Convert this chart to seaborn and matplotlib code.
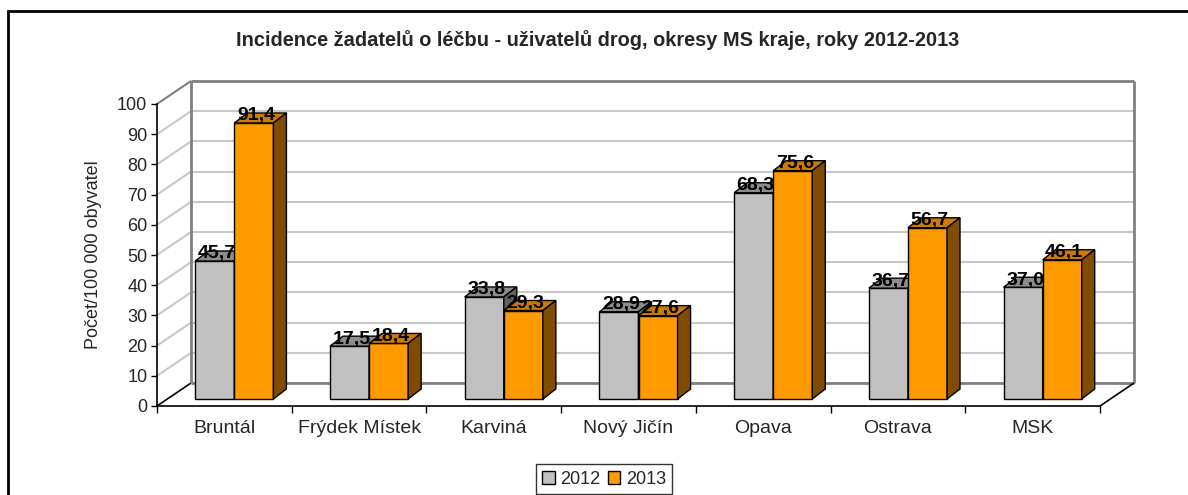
import numpy as np
import pandas as pd
import matplotlib
matplotlib.use('Agg')
import matplotlib.pyplot as plt
import seaborn as sns
from matplotlib.patches import Polygon, Rectangle
from matplotlib.transforms import ScaledTranslation, IdentityTransform

# data
okresy = ['Bruntál', 'Frýdek Místek', 'Karviná', 'Nový Jičín', 'Opava', 'Ostrava', 'MSK']
hodnoty_2012 = [45.7, 17.5, 33.8, 28.9, 68.3, 36.7, 37.0]
hodnoty_2013 = [91.4, 18.4, 29.3, 27.6, 75.6, 56.7, 46.1]
roky = ['2012', '2013']
y_ticks = list(range(0, 101, 10))

barvy = {'2012': '#C0C0C0', '2013': '#FF9900'}
barvy_vrch = {'2012': '#8C8C8C', '2013': '#CC7A00'}
barvy_bok = {'2012': '#606060', '2013': '#7F4C00'}

sns.set_theme(style='white')
plt.rcParams['font.family'] = ['Liberation Sans', 'DejaVu Sans']

DPI = 100
W, H = 1188, 495
fig = plt.figure(figsize=(W / DPI, H / DPI), dpi=DPI)
ax = fig.add_axes([157 / W, 89 / H, 943 / W, 302 / H])
ax.patch.set_alpha(0)

df = pd.DataFrame({
    'okres': okresy * 2,
    'rok': [roky[0]] * len(okresy) + [roky[1]] * len(okresy),
    'hodnota': hodnoty_2012 + hodnoty_2013,
})
sns.barplot(data=df, x='okres', y='hodnota', hue='rok', hue_order=roky, palette=barvy,
            width=0.58, gap=0, saturation=1, edgecolor='black', linewidth=1,
            errorbar=None, legend=False, ax=ax)

ax.set_xlim(-0.5, len(okresy) - 0.5)
ax.set_ylim(0, 100)
ax.set_autoscale_on(False)

# pseudo 3D offsets in pixels
bar_dx, bar_dy = 10, 7      # bars sit a bit behind the front plane
hl_dx, hl_dy = 13, 10       # depth of a bar
wall_dx, wall_dy = 34, 23   # depth of the floor / back wall

idt = IdentityTransform()


def px(x, y):
    return ax.transData.transform((x, y))


def line(p, q, color, lw, z=0.5):
    ax.plot([p[0], q[0]], [p[1], q[1]], color=color, lw=lw, transform=idt,
            clip_on=False, zorder=z, solid_capstyle='butt')


# back wall, side wall and floor
x_l, x_r = -0.5, len(okresy) - 0.5
for t in y_ticks:
    f = px(x_l, t)
    b = f + (wall_dx, wall_dy)
    br = px(x_r, t) + (wall_dx, wall_dy)
    if t == 0:
        line(f, b, 'black', 1.2)
        line(b, br, '#808080', 2)
    elif t == y_ticks[-1]:
        line(f, b, '#808080', 1.5)
        line(b, br, '#808080', 2)
    else:
        line(f, b, '#C8C8C8', 1.5, 0.4)
        line(b, br, '#C8C8C8', 1.5, 0.4)
b0 = px(x_l, 0) + (wall_dx, wall_dy)
b1 = px(x_l, 100) + (wall_dx, wall_dy)
line(b0, b1, '#808080', 2)
r0 = px(x_r, 0) + (wall_dx, wall_dy)
r1 = px(x_r, 100) + (wall_dx, wall_dy)
line(r0, r1, '#808080', 2)
line(px(x_r, 0), r0, 'black', 1.2)

# 3D faces of bars
shift = ScaledTranslation(bar_dx / DPI, bar_dy / DPI, fig.dpi_scale_trans)
n = len(okresy)
for i, p in enumerate(ax.patches[:2 * n]):
    rok = roky[i // n]
    z = 3 if rok == '2012' else 4
    x0, w, h = p.get_x(), p.get_width(), p.get_height()
    p.set_transform(ax.transData + shift)
    p.set_zorder(z)
    X0, Y0 = px(x0, 0) + (bar_dx, bar_dy)
    X1, Yt = px(x0 + w, h) + (bar_dx, bar_dy)
    top = [(X0, Yt), (X1, Yt), (X1 + hl_dx, Yt + hl_dy), (X0 + hl_dx, Yt + hl_dy)]
    side = [(X1, Y0), (X1, Yt), (X1 + hl_dx, Yt + hl_dy), (X1 + hl_dx, Y0 + hl_dy)]
    ax.add_patch(Polygon(top, closed=True, fc=barvy_vrch[rok], ec='black', lw=1,
                         transform=idt, clip_on=False, zorder=z + 0.1))
    ax.add_patch(Polygon(side, closed=True, fc=barvy_bok[rok], ec='black', lw=1,
                         transform=idt, clip_on=False, zorder=z + 0.1))
    ax.annotate(f'{h:.1f}'.replace('.', ','), xy=(x0 + w / 2, h), xycoords='data',
                xytext=(bar_dx + 2, bar_dy + 7), textcoords='offset pixels',
                ha='center', va='center', fontsize=14, fontweight='bold',
                color='black', zorder=6, annotation_clip=False)

# axes
for s in ['top', 'right']:
    ax.spines[s].set_visible(False)
for s in ['left', 'bottom']:
    ax.spines[s].set_color('black')
    ax.spines[s].set_linewidth(1.2)
    ax.spines[s].set_zorder(2)
ax.set_yticks(y_ticks)
ax.set_xticks(np.arange(-0.5, n, 1))
ax.set_xticklabels([])
ax.set_xticks(range(n), labels=okresy, minor=True)
ax.tick_params(axis='y', direction='out', length=4, width=1, color='black',
               labelsize=13, pad=3, left=True)
ax.tick_params(axis='x', which='major', direction='out', length=5, width=1,
               color='black', bottom=True)
ax.tick_params(axis='x', which='minor', length=0, labelsize=14, pad=10)
ax.set_xlabel('')
ax.set_ylabel('')
ax.grid(False)

fig.text(93 / W, 1 - 255 / H, 'Počet/100 000 obyvatel', rotation=90,
         ha='center', va='center', fontsize=13)
fig.text(598 / W, 1 - 40 / H,
         'Incidence žadatelů o léčbu - uživatelů drog, okresy MS kraje, roky 2012-2013',
         ha='center', va='center', fontsize=14.4, fontweight='bold')

# legend
handles = [Rectangle((0, 0), 1, 1, fc=barvy[r], ec='black', lw=1) for r in roky]
leg = fig.legend(handles, roky, loc='center', bbox_to_anchor=(604 / W, 1 - 479 / H),
                 ncol=2, fontsize=13, frameon=True, fancybox=False, handlelength=0.7,
                 handleheight=0.7, handletextpad=0.3, columnspacing=0.4,
                 borderpad=0.35, borderaxespad=0)
leg.get_frame().set_edgecolor('black')
leg.get_frame().set_linewidth(1)

# chart border
fig.add_artist(Rectangle((8 / W, -0.1), 1.2, 1 - 11 / H + 0.1, transform=fig.transFigure,
                         fill=False, ec='black', lw=2))

fig.savefig('out.png', dpi=DPI)
